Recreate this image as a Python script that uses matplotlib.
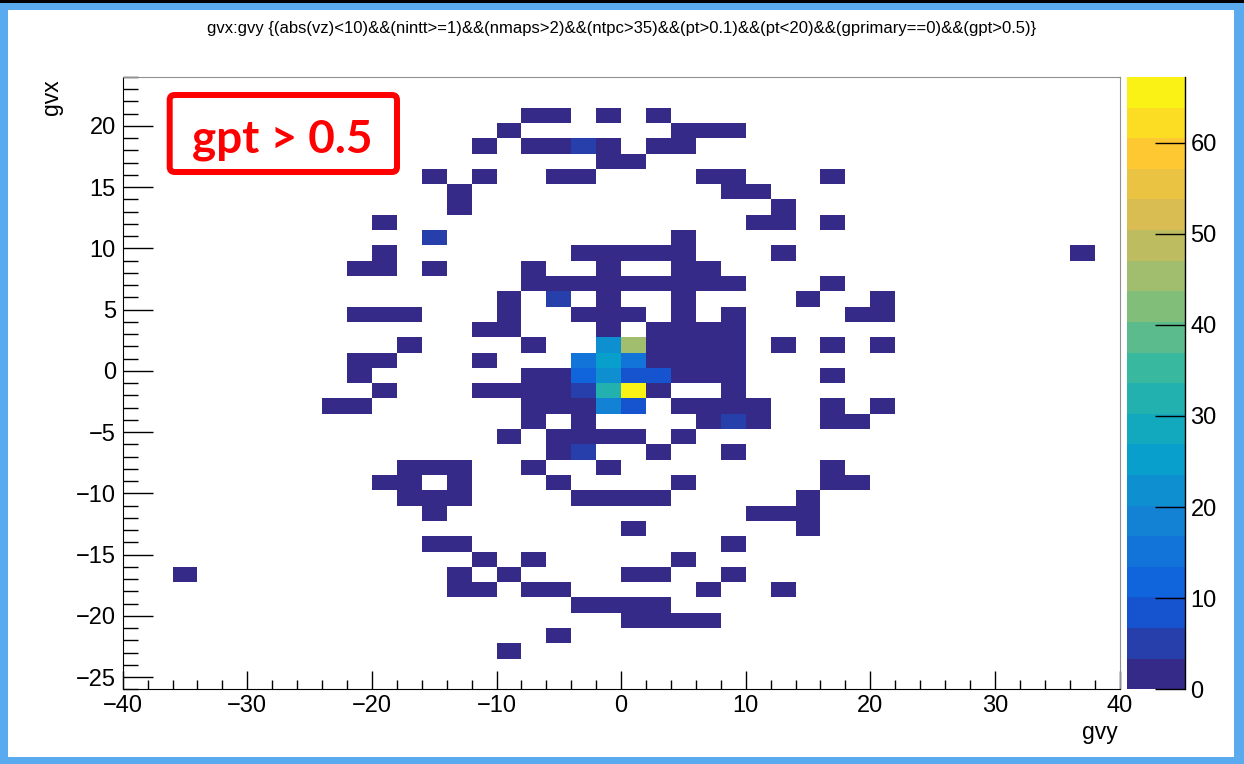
import numpy as np
import matplotlib
matplotlib.use("Agg")
import matplotlib.pyplot as plt
from matplotlib.colors import LinearSegmentedColormap, ListedColormap, BoundaryNorm
from matplotlib.patches import Rectangle, FancyBboxPatch
from matplotlib.ticker import MultipleLocator

plt.rcParams['font.family'] = ['Liberation Sans', 'DejaVu Sans']

# TH2 binning: gvy on x (40 bins of 2), gvx on y (40 bins of 1.25)
gvy_edges = np.linspace(-40, 40, 41)
gvx_edges = np.linspace(-26, 24, 41)

# filled bins: (gvx row index, [gvy column indices]), low-count bins
filled_rows = [
    (37, [16, 17, 19, 21]),
    (36, [15, 22, 23, 24]),
    (35, [14, 16, 17, 18, 19, 21, 22]),
    (34, [19, 20]),
    (33, [12, 14, 17, 18, 23, 24, 28]),
    (32, [13, 24, 25]),
    (31, [13, 26]),
    (30, [10, 25, 26, 28]),
    (29, [12, 22]),
    (28, [10, 18, 19, 20, 21, 22, 26, 38]),
    (27, [9, 10, 12, 16, 19, 22, 23]),
    (26, [16, 17, 18, 19, 20, 21, 22, 23, 24, 28]),
    (25, [15, 17, 19, 22, 27, 30]),
    (24, [9, 10, 11, 15, 18, 19, 20, 22, 24, 29, 30]),
    (23, [14, 15, 19, 21, 22, 23, 24]),
    (22, [11, 16, 19, 20, 21, 22, 23, 24, 26, 28, 30]),
    (21, [9, 10, 14, 18, 19, 20, 21, 22, 23, 24]),
    (20, [9, 16, 17, 18, 19, 20, 21, 22, 23, 24, 28]),
    (19, [10, 14, 15, 16, 17, 18, 19, 20, 21, 24]),
    (18, [8, 9, 16, 17, 18, 19, 20, 22, 23, 24, 25, 28, 30]),
    (17, [16, 18, 23, 24, 25, 28, 29]),
    (16, [15, 17, 18, 19, 20, 22]),
    (15, [17, 18, 21, 24]),
    (14, [11, 12, 13, 16, 19, 28]),
    (13, [10, 11, 13, 17, 22, 28, 29]),
    (12, [11, 12, 13, 18, 19, 20, 21, 27]),
    (11, [12, 25, 26, 27]),
    (10, [20, 27]),
    (9, [12, 13, 24]),
    (8, [14, 16, 22]),
    (7, [2, 13, 15, 20, 21, 24]),
    (6, [13, 14, 16, 17, 23, 26]),
    (5, [18, 19, 20, 21]),
    (4, [20, 21, 22, 23]),
    (3, [17]),
    (2, [15]),
]

# bins with more entries
hot_row = [35, 29, 25, 17, 15, 19, 22, 22, 21, 21, 21, 20, 20, 20, 20, 19, 19, 18, 18]
hot_col = [18, 12, 17, 24, 18, 18, 19, 20, 18, 19, 20, 18, 19, 20, 21, 19, 20, 19, 20]
hot_cnt = [5, 5, 5, 5, 5, 5, 22, 44, 15, 26, 14, 11, 21, 9, 9, 33, 64, 18, 9]

zmax = 67.2
cb_ticks = [0, 10, 20, 30, 40, 50, 60]

title = ("gvx:gvy {(abs(vz)<10)&&(nintt>=1)&&(nmaps>2)&&(ntpc>35)&&(pt>0.1)"
         "&&(pt<20)&&(gprimary==0)&&(gpt>0.5)}")

H = np.zeros((40, 40))
for r, cols in filled_rows:
    H[r, cols] = 1
for r, c, v in zip(hot_row, hot_col, hot_cnt):
    H[r, c] = v
H = np.ma.masked_equal(H, 0)

# ROOT kBird palette, 20 contour levels
stops = [0.0, 0.125, 0.25, 0.375, 0.5, 0.625, 0.75, 0.875, 1.0]
red = [0.2082, 0.0592, 0.0780, 0.0232, 0.1802, 0.5301, 0.8186, 0.9956, 0.9764]
green = [0.1664, 0.3599, 0.5041, 0.6419, 0.7178, 0.7492, 0.7328, 0.7862, 0.9832]
blue = [0.5293, 0.8684, 0.8385, 0.7914, 0.6425, 0.4662, 0.3499, 0.1968, 0.0539]
bird = LinearSegmentedColormap.from_list('bird', list(zip(stops, zip(red, green, blue))))
cmap = ListedColormap(bird(np.linspace(0, 0.975, 20)))
norm = BoundaryNorm(np.linspace(0, zmax, 21), 20)

W, Hpx = 1244, 764
fig = plt.figure(figsize=(W / 100, Hpx / 100), dpi=100, facecolor='#5aaaf0')
# white canvas inside the blue frame, black strip on top
fig.patches.append(Rectangle((8 / W, 7 / Hpx), 1226 / W, 747 / Hpx, transform=fig.transFigure,
                             facecolor='white', edgecolor='none', zorder=-2))
fig.patches.append(Rectangle((0, 761 / Hpx), 1, 3 / Hpx, transform=fig.transFigure,
                             facecolor='black', edgecolor='none', zorder=-2))

ax = fig.add_axes([122.7 / W, (Hpx - 689.3) / Hpx, 996.8 / W, 612.3 / Hpx])
mesh = ax.pcolormesh(gvy_edges, gvx_edges, H, cmap=cmap, norm=norm, antialiased=True)
ax.set_xlim(-40, 40)
ax.set_ylim(-26, 24)

ax.xaxis.set_major_locator(MultipleLocator(10))
ax.xaxis.set_minor_locator(MultipleLocator(2))
ax.yaxis.set_major_locator(MultipleLocator(5))
ax.yaxis.set_minor_locator(MultipleLocator(1))
ax.tick_params(axis='x', which='major', direction='in', length=13, width=1, labelsize=17, pad=4)
ax.tick_params(axis='x', which='minor', direction='in', length=6.5, width=1)
ax.tick_params(axis='y', which='major', direction='in', length=21.6, width=1, labelsize=17, pad=5)
ax.tick_params(axis='y', which='minor', direction='in', length=10.8, width=1)
for s in ['top', 'right']:
    ax.spines[s].set_color('#909090')
for s in ['left', 'bottom']:
    ax.spines[s].set_color('black')

# palette axis
cax = fig.add_axes([1127 / W, (Hpx - 689.3) / Hpx, 58 / W, 612.3 / Hpx])
cb = fig.colorbar(mesh, cax=cax, ticks=cb_ticks)
cb.outline.set_visible(False)
cax.plot([1, 1], [0, 1], transform=cax.transAxes, color='black', lw=1, clip_on=False)
cax.minorticks_off()
cax.tick_params(direction='in', length=21.6, width=1, labelsize=17, pad=4)

fig.text(0.5, (Hpx - 28) / Hpx, title, ha='center', va='center', fontsize=12)
fig.text(52 / W, (Hpx - 97) / Hpx, 'gvx', rotation=90, ha='center', va='center', fontsize=16.5)
fig.text(1118 / W, (Hpx - 732) / Hpx, 'gvy', ha='right', va='center', fontsize=16.5)

# red annotation box
box = FancyBboxPatch((1.697, (Hpx - 172) / 100), 2.273, 0.77,
                     boxstyle='round,pad=0,rounding_size=0.05',
                     transform=fig.dpi_scale_trans, facecolor='white',
                     edgecolor='#ff0000', lw=4.3, zorder=5)
fig.patches.append(box)
fig.text(282 / W, (Hpx - 140) / Hpx, 'gpt > 0.5', color='#ff0000', fontsize=33,
         fontweight='bold', family=['Lato', 'DejaVu Sans'], ha='center', va='center', zorder=6)

fig.savefig('out.png', dpi=100, facecolor=fig.get_facecolor())
